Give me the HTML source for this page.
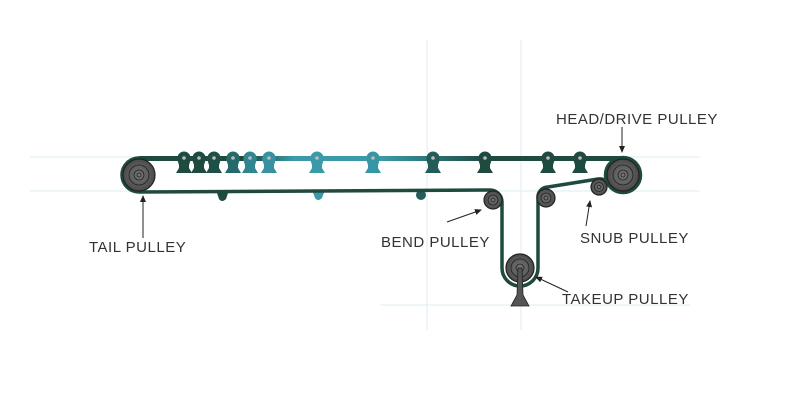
<!DOCTYPE html>
<html><head><meta charset="utf-8"><style>
html,body{margin:0;padding:0;background:#fff;width:800px;height:418px;overflow:hidden}
text{font-family:"Liberation Sans",sans-serif;font-size:15px;fill:#333;letter-spacing:0.5px}
</style></head><body>
<svg width="800" height="418" viewBox="0 0 800 418" xmlns="http://www.w3.org/2000/svg">
<defs>
<linearGradient id="g" gradientUnits="userSpaceOnUse" x1="139" x2="623" y1="0" y2="0">
<stop offset="0" stop-color="#1e4a40"/>
<stop offset="0.22" stop-color="#1e4a40"/>
<stop offset="0.32" stop-color="#3a9aaa"/>
<stop offset="0.5" stop-color="#3a9aaa"/>
<stop offset="0.62" stop-color="#2a6e70"/>
<stop offset="0.72" stop-color="#1e4a40"/>
<stop offset="1" stop-color="#1e4a40"/>
</linearGradient>
<radialGradient id="p" cx="0.5" cy="0.5" r="0.5"><stop offset="0" stop-color="#777"/><stop offset="1" stop-color="#4a4a4a"/></radialGradient>
<g id="fl"><circle cx="0" cy="-1" r="6.5"/><path d="M-7 0 L7 0 L5 6 L5 9 L8 14 L-8 14 L-5 9 L-5 6 Z"/><circle cx="0" cy="-1" r="1.8" fill="#bbb"/></g>
<marker id="a" markerWidth="8" markerHeight="8" refX="6" refY="4" orient="auto"><path d="M0 1 L7 4 L0 7 Z" fill="#222"/></marker>
</defs>
<g stroke="#dceef4" stroke-width="1">
<line x1="30" y1="157" x2="700" y2="157"/><line x1="30" y1="191" x2="700" y2="191"/>
<line x1="380" y1="305" x2="690" y2="305"/>
<line x1="427" y1="40" x2="427" y2="330"/><line x1="521" y1="40" x2="521" y2="330"/>
</g>
<rect x="139" y="156" width="484" height="5" fill="url(#g)"/>
<use href="#fl" x="184" y="159" fill="#1e4a40"/><use href="#fl" x="199" y="159" fill="#1e4a40"/><use href="#fl" x="214" y="159" fill="#1f5048"/>
<use href="#fl" x="233" y="159" fill="#26696a"/><use href="#fl" x="250" y="159" fill="#2f8590"/><use href="#fl" x="269" y="159" fill="#3691a0"/>
<use href="#fl" x="317" y="159" fill="#3a9aaa"/><use href="#fl" x="373" y="159" fill="#3796a6"/><use href="#fl" x="433" y="159" fill="#245c58"/>
<use href="#fl" x="485" y="159" fill="#1e4a40"/><use href="#fl" x="548" y="159" fill="#1e4a40"/><use href="#fl" x="580" y="159" fill="#1e4a40"/>
<path d="M216 190 L229 190 L226 199 Q222 203 219 199 Z" fill="#1e4a40"/>
<path d="M312 190 L325 190 L322 198 Q318 202 315 198 Z" fill="#3a9aaa"/>
<circle cx="421" cy="195" r="5" fill="#245c58"/>
<g fill="none" stroke="#1e4a40" stroke-width="3.5" stroke-linejoin="round">
<path d="M139 158 A17 17 0 0 0 139 192 L490 190 A12 12 0 0 1 502 202 L502 268 A18 18 0 0 0 538 268 L538 198 A10 10 0 0 1 548 187 L598 179 Q606 178 610 186"/>
<circle cx="623" cy="175" r="17.5"/>
</g>
<g fill="url(#p)" stroke="#222" stroke-width="1.2">
<circle cx="139" cy="175" r="16"/><circle cx="623" cy="175" r="16"/>
<circle cx="493" cy="200" r="9"/><circle cx="546" cy="198" r="9"/><circle cx="599" cy="187" r="8"/>
<circle cx="520" cy="268" r="14"/>
</g>
<g fill="none" stroke="#222" stroke-width="0.8">
<circle cx="139" cy="175" r="10"/><circle cx="139" cy="175" r="5"/><circle cx="139" cy="175" r="2"/>
<circle cx="623" cy="175" r="10"/><circle cx="623" cy="175" r="5"/><circle cx="623" cy="175" r="2"/>
<circle cx="493" cy="200" r="5"/><circle cx="493" cy="200" r="2"/>
<circle cx="546" cy="198" r="5"/><circle cx="546" cy="198" r="2"/>
<circle cx="599" cy="187" r="4.5"/><circle cx="599" cy="187" r="1.8"/>
<circle cx="520" cy="268" r="9"/><circle cx="520" cy="268" r="4"/>
</g>
<path d="M518 268 L522 268 L523 295 L529 306 L511 306 L517 295 Z" fill="#555" stroke="#222" stroke-width="0.8"/>
<g stroke="#222" stroke-width="1" marker-end="url(#a)">
<line x1="143" y1="238" x2="143" y2="196"/>
<line x1="622" y1="127" x2="622" y2="152"/>
<line x1="447" y1="222" x2="481" y2="210"/>
<line x1="586" y1="226" x2="590" y2="201"/>
<line x1="568" y1="292" x2="536" y2="277"/>
</g>
<text x="556" y="124">HEAD/DRIVE PULLEY</text>
<text x="89" y="252">TAIL PULLEY</text>
<text x="381" y="247">BEND PULLEY</text>
<text x="580" y="243">SNUB PULLEY</text>
<text x="562" y="304">TAKEUP PULLEY</text>
</svg>
</body></html>
